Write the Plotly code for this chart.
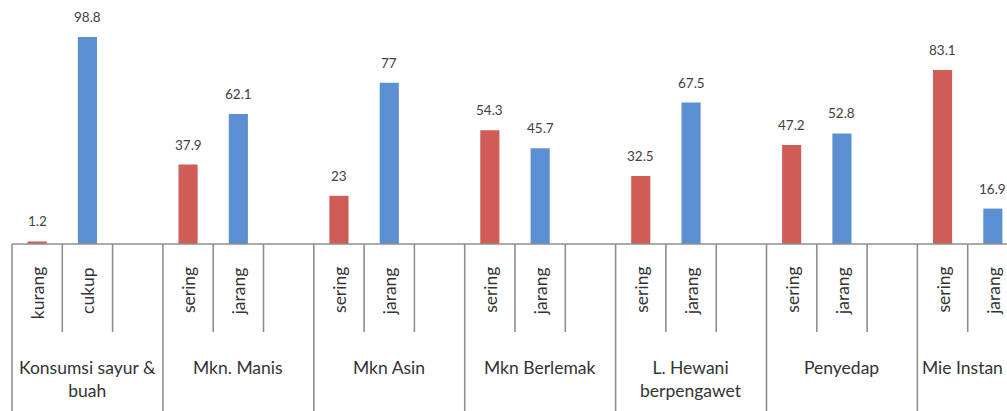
import plotly.graph_objects as go

groups = ["Konsumsi sayur &<br>buah", "Mkn. Manis", "Mkn Asin", "Mkn Berlemak",
          "L. Hewani<br>berpengawet", "Penyedap", "Mie Instan"]
red_labels = ["kurang", "sering", "sering", "sering", "sering", "sering", "sering"]
blue_labels = ["cukup", "jarang", "jarang", "jarang", "jarang", "jarang", "jarang"]
red_vals = [1.2, 37.9, 23, 54.3, 32.5, 47.2, 83.1]
blue_vals = [98.8, 62.1, 77, 45.7, 67.5, 52.8, 16.9]

RED = "#CF5C56"
BLUE = "#5B8FD1"
LINE = "#8E8E8E"
FONT = "Lato"
TXT = "#333333"

W, H = 1007, 411
base_px = 244
slot_px = 50.3
left_px = 12

n = len(groups)
red_x = [3 * g for g in range(n)]
blue_x = [3 * g + 1 for g in range(n)]

fig = go.Figure()
fig.add_trace(go.Bar(x=red_x, y=red_vals, marker_color=RED, width=0.38,
                     marker_line_width=0, hoverinfo="skip"))
fig.add_trace(go.Bar(x=blue_x, y=blue_vals, marker_color=BLUE, width=0.38,
                     marker_line_width=0, hoverinfo="skip"))

def py(px):
    return -(px - base_px) / base_px

shapes = []
xmax = -0.5 + (W - left_px) / slot_px
shapes.append(dict(type="line", xref="x", yref="paper", x0=-0.5, x1=xmax + 1,
                   y0=0, y1=0, line=dict(color=LINE, width=1.6)))
for g in range(n + 1):
    shapes.append(dict(type="line", xref="x", yref="paper", x0=3 * g - 0.5, x1=3 * g - 0.5,
                       y0=0, y1=py(H + 5), line=dict(color=LINE, width=1.6)))
for g in range(n):
    for k in (0.5, 1.5):
        shapes.append(dict(type="line", xref="x", yref="paper", x0=3 * g + k, x1=3 * g + k,
                           y0=0, y1=py(332), line=dict(color=LINE, width=1.6)))

ann = []
for xs, vals in ((red_x, red_vals), (blue_x, blue_vals)):
    for x, v in zip(xs, vals):
        ann.append(dict(x=x, y=v, xref="x", yref="y", text=f"{v:g}", showarrow=False,
                        yanchor="bottom", yshift=10, font=dict(family=FONT, size=13.5, color="#404040")))
for xs, labs in ((red_x, red_labels), (blue_x, blue_labels)):
    for x, t in zip(xs, labs):
        ann.append(dict(x=x, y=py(265), xref="x", yref="paper", text=t, showarrow=False,
                        textangle=-90, yanchor="top", xanchor="center",
                        font=dict(family=FONT, size=17.5, color=TXT)))
for g, t in enumerate(groups):
    # label centred on the visible part of its group (as in the cropped original)
    gx = (3 * g - 0.5 + min(3 * g + 2.5, xmax)) / 2
    ann.append(dict(x=gx, y=py(355), xref="x", yref="paper", text=t, showarrow=False,
                    yanchor="top", xanchor="center", align="center",
                    font=dict(family=FONT, size=17.5, color=TXT)))

fig.update_layout(
    width=W, height=H,
    margin=dict(l=0, r=0, t=0, b=H - base_px, pad=0),
    paper_bgcolor="white", plot_bgcolor="white",
    showlegend=False,
    xaxis=dict(visible=False, range=[-0.5 - left_px / slot_px, xmax]),
    yaxis=dict(visible=False, range=[0, base_px / 2.095]),
    shapes=shapes, annotations=ann,
)
fig.write_html("out.html", config={"staticPlot": True},
               post_script="document.body.style.margin='0';document.body.style.overflow='hidden';")
